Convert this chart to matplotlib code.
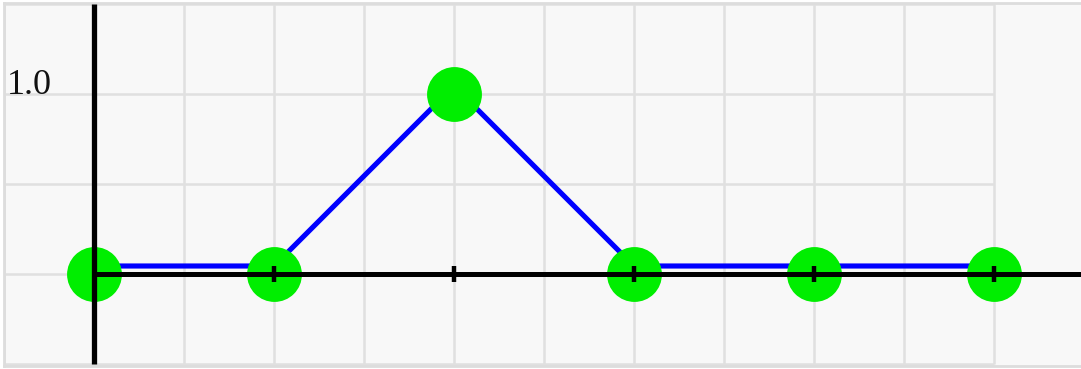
import matplotlib
matplotlib.use("Agg")
import matplotlib.pyplot as plt
import matplotlib.transforms as mtransforms
import numpy as np

# data
x_vals = [0, 1, 2, 3, 4, 5]
y_vals = [0, 0, 1, 0, 0, 0]
tick_x = [1, 2, 3, 4, 5]
grid_x = [-0.5, 0, 0.5, 1, 1.5, 2, 2.5, 3, 3.5, 4, 4.5, 5]
grid_y = [-0.5, 0, 0.5, 1.0, 1.5]
y_label = "1.0"

W, H, DPI = 1081, 369, 100
fig = plt.figure(figsize=(W / DPI, H / DPI), dpi=DPI)
fig.patch.set_facecolor("white")

# axes covers pixel 4..1081 horizontally and 3..366 vertically
ax = fig.add_axes([4 / W, 3 / H, 1077 / W, 363 / H])
ax.set_facecolor("#f8f8f8")
px = 180.0  # pixels per data unit
ax.set_xlim(-0.5, -0.5 + 1077 / px)
ax.set_ylim(-92 / px, 271 / px)
ax.set_xticks([])
ax.set_yticks([])
for s in ax.spines.values():
    s.set_color("#dddddd")
    s.set_linewidth(2.0)
ax.spines["right"].set_visible(False)

# grid
ax.vlines(grid_x, grid_y[0], grid_y[-1], color="#e0e0e0", lw=1.8, zorder=1)
ax.hlines(grid_y, grid_x[0], grid_x[-1], color="#e0e0e0", lw=1.8, zorder=1)

# blue line (drawn a few pixels above the points, like the original)
trans = mtransforms.offset_copy(ax.transData, fig=fig, x=0, y=8, units="dots")
ax.plot(x_vals, y_vals, color="#0000ff", lw=3.7, transform=trans, zorder=2,
        solid_capstyle="butt")

# points
ax.plot(x_vals, y_vals, "o", color="#00ee00", ms=39.5, mew=0, zorder=3)

# axes lines
ax.plot([0, 0], [grid_y[0], grid_y[-1]], color="black", lw=3.8, zorder=4,
        solid_capstyle="butt")
ax.plot([0, 10], [0, 0], color="black", lw=3.6, zorder=4, solid_capstyle="butt")
ax.plot(tick_x, np.zeros(len(tick_x)), "|", color="black", ms=12, mew=3.2,
        zorder=5)

ax.text(-0.485, 1.0, y_label, fontsize=26, family="Liberation Serif",
        color="#111111", ha="left", va="baseline", zorder=6)

fig.savefig("out.png", dpi=DPI)
